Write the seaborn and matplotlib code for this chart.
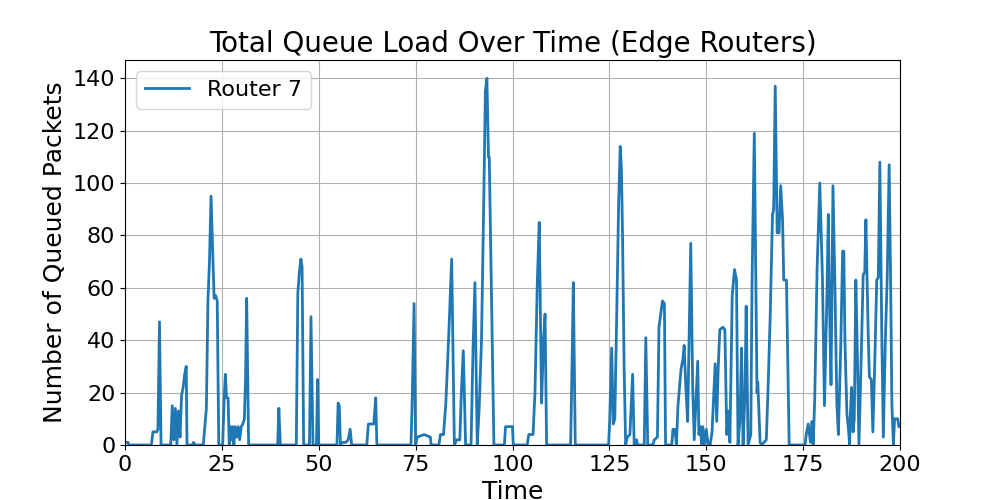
import numpy as np
import pandas as pd
import matplotlib
matplotlib.use("Agg")
import matplotlib.pyplot as plt
import seaborn as sns

# values (time, queued packets)
time = [0, 0.8, 1.0, 6.8, 7.2, 8.2, 8.5, 8.9, 9.3, 11.8, 12.2, 12.6, 13.0, 13.4, 13.8, 14.2,
        14.6, 15.0, 15.4, 15.8, 16.0, 17.4, 17.7, 18.0, 20.2, 20.6, 21.0, 21.4, 21.8, 22.2,
        22.6, 23.0, 23.4, 23.8, 24.2, 25.2, 25.6, 25.9, 26.2, 26.6, 26.9, 27.2, 27.5, 27.8,
        28.1, 28.4, 28.8, 29.2, 29.6, 30.0, 30.4, 30.8, 31.1, 31.4, 31.9, 39.4, 39.7, 40.1,
        44.2, 44.6, 45.0, 45.4, 45.7, 46.1, 47.6, 48.0, 48.5, 49.4, 49.7, 50.0, 54.7, 55.0,
        55.3, 55.6, 56.0, 57.0, 57.6, 58.1, 58.5, 62.4, 62.8, 64.2, 64.7, 65.0, 73.8, 74.1,
        74.6, 75.0, 75.4, 77.2, 78.8, 79.0, 81.0, 81.4, 82.2, 82.8, 83.6, 84.3, 85.0, 85.6,
        86.4, 86.8, 87.3, 87.9, 89.3, 89.8, 90.3, 90.9, 91.4, 92.0, 92.6, 93.0, 93.4, 93.8,
        94.0, 95.2, 97.9, 98.2, 100.0, 100.2, 103.8, 104.2, 105.3, 105.8, 106.4, 106.9, 107.5,
        108.0, 108.4, 108.8, 115.0, 115.3, 115.7, 116.2, 124.8, 125.1, 125.6, 126.0, 126.4,
        126.9, 127.4, 127.8, 128.1, 128.4, 128.8, 129.2, 129.6, 130.3, 131.0, 131.4, 132.0,
        132.3, 134.0, 134.4, 134.9, 136.2, 136.6, 137.4, 137.8, 138.7, 139.2, 139.5, 141.1,
        141.4, 141.9, 142.3, 142.7, 143.5, 144.0, 144.3, 144.7, 145.2, 146.0, 146.5, 146.9,
        147.8, 148.1, 148.5, 148.8, 149.1, 149.5, 150.0, 150.5, 151.0, 151.5, 152.3, 152.7,
        153.1, 153.5, 154.3, 154.8, 155.3, 155.7, 156.1, 156.7, 157.3, 157.8, 158.2, 158.7,
        159.1, 159.5, 160.0, 160.3, 160.8, 161.5, 161.8, 162.4, 162.8, 163.1, 163.3, 163.9,
        164.3, 165.5, 166.0, 166.5, 167.1, 167.4, 167.8, 168.3, 168.8, 169.2, 169.7, 170.0,
        170.7, 171.4, 175.5, 175.8, 176.3, 176.9, 177.3, 177.6, 178.0, 178.6, 179.3, 180.0,
        180.5, 181.1, 181.5, 181.8, 182.2, 182.7, 183.2, 183.7, 184.1, 184.7, 185.2, 185.5,
        185.8, 186.3, 186.7, 187.0, 187.2, 187.5, 187.9, 188.2, 188.6, 189.0, 189.4, 190.0,
        190.5, 190.9, 191.2, 191.8, 192.1, 192.6, 193.0, 193.5, 194.0, 194.4, 194.8, 195.3,
        195.7, 196.2, 196.7, 197.2, 197.6, 197.9, 198.3, 198.6, 199.4, 199.7, 200.0]
queue = [1, 1, 0, 0, 5, 5, 6, 47, 0, 0, 15, 2, 14, 0, 13, 3,
         19, 22, 27, 30, 0, 0, 1, 0, 0, 7, 14, 55, 70, 95,
         75, 56, 57, 55, 0, 0, 18, 27, 18, 18, 0, 7, 2, 7,
         0, 7, 3, 7, 2, 7, 8, 10, 25, 56, 0, 0, 14, 0,
         0, 58, 66, 71, 68, 0, 0, 49, 0, 0, 25, 0, 0, 16,
         15, 0, 1, 1, 2, 6, 0, 0, 8, 8, 18, 0, 0, 16,
         54, 0, 3, 4, 3, 0, 0, 4, 4, 16, 44, 71, 0, 2,
         2, 20, 36, 0, 0, 36, 62, 0, 14, 40, 95, 135, 140, 110,
         110, 0, 0, 7, 7, 0, 0, 4, 4, 20, 62, 85, 16,
         40, 50, 0, 0, 25, 62, 0, 0, 10, 37, 8, 10,
         50, 93, 114, 106, 80, 30, 0, 3, 4, 27, 0, 2,
         0, 0, 41, 0, 0, 2, 3, 45, 55, 54, 0, 0,
         6, 6, 0, 15, 29, 33, 38, 23, 9, 77, 22, 2,
         32, 4, 7, 0, 7, 0, 6, 0, 0, 5, 31, 9,
         30, 44, 45, 44, 4, 13, 1, 57, 67, 63, 0, 10,
         37, 0, 20, 53, 0, 4, 60, 119, 63, 20, 24, 1,
         0, 2, 24, 49, 88, 90, 137, 81, 81, 99, 86, 63,
         63, 0, 0, 4, 8, 1, 9, 0, 18, 67, 100, 63,
         15, 54, 88, 54, 23, 99, 61, 16, 4, 37, 74, 74,
         39, 12, 6, 0, 12, 22, 5, 10, 63, 35, 0, 34,
         65, 66, 86, 42, 26, 25, 5, 32, 63, 64, 108, 42,
         3, 39, 64, 107, 60, 16, 0, 10, 10, 7, 7]

df = pd.DataFrame({"Time": time, "Queue": queue})

fig, ax = plt.subplots(figsize=(10, 5), dpi=100)
sns.lineplot(data=df, x="Time", y="Queue", ax=ax, label="Router 7",
             linewidth=2, color="#1f77b4")
ax.set_xlim(0, 200)
ax.set_ylim(0, None)
ax.grid(True)
ax.set_title("Total Queue Load Over Time (Edge Routers)", fontsize=20)
ax.set_xlabel("Time", fontsize=18)
ax.set_ylabel("Number of Queued Packets", fontsize=18)
ax.tick_params(labelsize=16)
ax.legend(loc="upper left", fontsize=16)
fig.savefig("out.png")
